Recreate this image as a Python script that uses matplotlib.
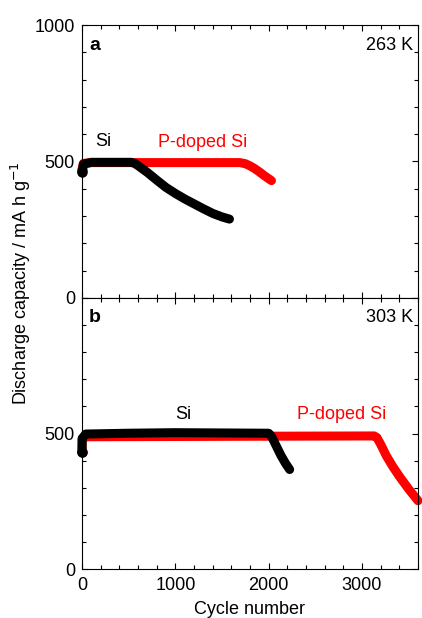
import matplotlib
matplotlib.use('Agg')
import matplotlib.pyplot as plt
from matplotlib.ticker import MultipleLocator

plt.rcParams['font.family'] = ['Liberation Sans', 'DejaVu Sans']

# Panel a (263 K)
a_si_cycle = [0, 15, 100, 530, 570, 620, 700, 800, 900, 1000, 1100, 1200, 1300, 1400, 1500, 1580]
a_si_cap = [460, 490, 497, 497, 492, 480, 460, 432, 405, 383, 363, 345, 327, 310, 297, 289]
a_p_cycle = [0, 15, 100, 1000, 1690, 1750, 1800, 1850, 1900, 1950, 2000, 2030]
a_p_cap = [470, 493, 496, 496, 496, 492, 484, 474, 462, 449, 437, 430]

# Panel b (303 K)
b_si_cycle = [0, 2, 40, 500, 1000, 1500, 2000, 2030, 2080, 2130, 2180, 2225]
b_si_cap = [430, 482, 498, 501, 503, 502, 501, 490, 455, 420, 390, 367]
b_p_cycle = [0, 2, 50, 1000, 2000, 3130, 3160, 3200, 3260, 3330, 3400, 3500, 3600]
b_p_cap = [430, 480, 488, 489, 490, 491, 485, 460, 418, 378, 342, 295, 252]

W, H = 422, 618
fig = plt.figure(figsize=(W / 100, H / 100), dpi=100)
left = 82 / W
right = 418 / W
ax1 = fig.add_axes([left, 1 - 298 / H, right - left, (298 - 25) / H])
ax2 = fig.add_axes([left, 1 - 569 / H, right - left, (569 - 298) / H])

lw = 6.5
for ax, pc, pv, sc, sv in [(ax1, a_p_cycle, a_p_cap, a_si_cycle, a_si_cap),
                           (ax2, b_p_cycle, b_p_cap, b_si_cycle, b_si_cap)]:
    ax.plot(pc, pv, color='#ff0000', lw=lw, solid_capstyle='round',
            solid_joinstyle='round', marker='o', ms=6.5, markevery=[0],
            clip_on=False)
    ax.plot(sc, sv, color='black', lw=lw, solid_capstyle='round',
            solid_joinstyle='round', marker='o', ms=6.5, markevery=[0],
            clip_on=False)
    ax.set_xlim(0, 3600)
    ax.set_ylim(0, 1000)
    ax.xaxis.set_major_locator(MultipleLocator(1000))
    ax.xaxis.set_minor_locator(MultipleLocator(200))
    ax.yaxis.set_major_locator(MultipleLocator(500))
    ax.yaxis.set_minor_locator(MultipleLocator(100))
    ax.tick_params(which='both', direction='in', top=True, right=True,
                   labelsize=13, width=0.8)
    ax.tick_params(which='major', length=4.5, pad=5)
    ax.tick_params(which='minor', length=3)
    for s in ax.spines.values():
        s.set_linewidth(0.8)

ax1.set_xticklabels([])
ax1.set_yticks([0, 500, 1000])
ax2.set_yticks([0, 500, 1000])
ax2.set_yticklabels(['0', '500', ''])
ax2.tick_params(axis='x', pad=6)

ax1.text(89 / W, 1 - 46 / H, 'a', transform=fig.transFigure, fontsize=14,
         fontweight='bold', va='center', ha='left')
ax1.text(413 / W, 1 - 45 / H, '263 K', transform=fig.transFigure, fontsize=13,
         va='center', ha='right')
ax2.text(89 / W, 1 - 318 / H, 'b', transform=fig.transFigure, fontsize=14,
         fontweight='bold', va='center', ha='left')
ax2.text(413 / W, 1 - 317 / H, '303 K', transform=fig.transFigure, fontsize=13,
         va='center', ha='right')

ax1.text(140, 572, 'Si', fontsize=13, color='black', va='center', ha='left')
ax1.text(813, 570, 'P-doped Si', fontsize=13, color='#ff0000', va='center', ha='left')
ax2.text(995, 570, 'Si', fontsize=13, color='black', va='center', ha='left')
ax2.text(2300, 570, 'P-doped Si', fontsize=13, color='#ff0000', va='center', ha='left')

fig.text(21 / W, 1 - 283 / H, 'Discharge capacity / mA h g$^{-1}$', rotation=90,
         fontsize=13, va='center', ha='center')
fig.text(250 / W, 1 - 601 / H, 'Cycle number', fontsize=13, va='top', ha='center')

fig.savefig('out.png', dpi=100)
